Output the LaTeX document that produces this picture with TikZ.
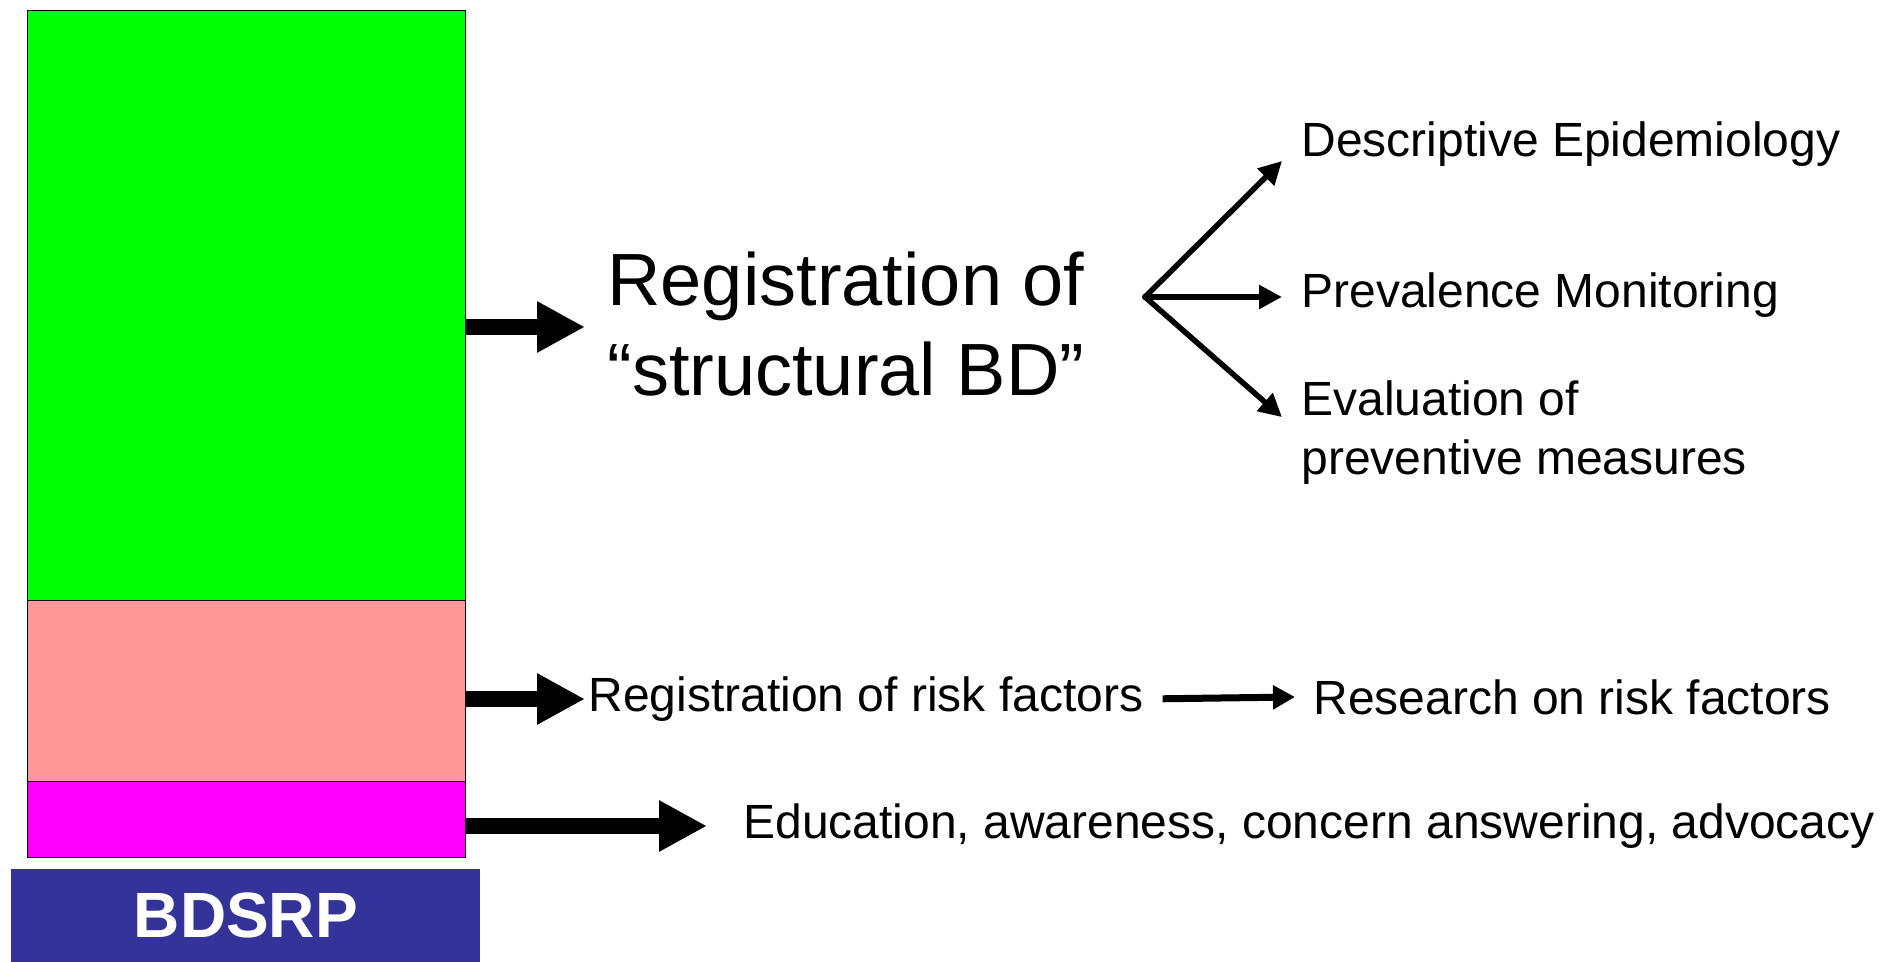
\documentclass[tikz,border=0pt]{standalone}
\usepackage{fontspec}
\setmainfont{Liberation Sans}
\usepackage{tikz}
\usetikzlibrary{arrows.meta}

\begin{document}
\begin{tikzpicture}
	[x=0.5pt,y=-0.5pt,line cap=round,
	%Styles
	block/.style={draw,line width=0.75pt,inner sep=0,anchor=north west,minimum width=219pt},
	label text/.style={anchor=west,inner ysep=0,font=\fontsize{24}{29.5}\selectfont,align=left},
	big text/.style={anchor=west,font=\fontsize{37}{45}\selectfont,align=left},
	fat arrow/.style={line width=8pt,line cap=butt,-{Triangle[length=24pt,width=24pt]}},
	thin arrow/.style={line width=3.5pt,line cap=butt,-{Triangle[length=11pt,width=11.5pt]}},
	fan arrow/.style={line width=2.75pt,-{Triangle[length=11.5pt,width=11.5pt]}}
	]
	
	%Colors
	\definecolor{bargreen}{RGB}{0,255,0}
	\definecolor{barsalmon}{RGB}{255,153,153}
	\definecolor{barmagenta}{RGB}{255,0,255}
	\definecolor{titleblue}{RGB}{51,51,153}
	
	\useasboundingbox (0,0) rectangle (1892,962);
	
	%The bar
	\node[block,fill=bargreen,minimum height=295pt] (green) at (26.5,9.7) {};
	\node[block,fill=barsalmon,minimum height=90.5pt] (salmon) at (26.5,599.7) {};
	\node[block,fill=barmagenta,minimum height=38pt] (magenta) at (26.5,780.7) {};
	\node[anchor=north west,fill=titleblue,inner sep=0,minimum width=234.5pt,minimum height=46.5pt,
		text=white,font=\fontsize{32}{38}\selectfont\bfseries] (bdsrp) at (11,869) {BDSRP};
	
	%The texts
	\node[big text,inner xsep=11pt,yshift=1.5pt] (reg) at (585,327) {Registration of\\“structural BD”};
	\coordinate (fan) at (1145,297);
	\node[label text,inner xsep=9.5pt,anchor=base west] (desc) at (1282,157) {Descriptive Epidemiology};
	\node[label text,inner xsep=9.5pt] (prev) at (1282,295) {Prevalence Monitoring};
	\node[label text,inner xsep=9.5pt,anchor=base west] (eval) at (1282,475) {Evaluation of\\preventive measures};
	\node[label text,inner xsep=1.5pt] (risk) at (585,699) {Registration of risk factors};
	\node[label text,inner xsep=9pt] (research) at (1295,697) {Research on risk factors};
	\node[label text,inner xsep=18pt] (edu) at (707,826) {Education, awareness, concern answering, advocacy};
	
	%The arrows
	\draw[fat arrow] (green.east |- 0,327) -- (reg.west |- 0,327);
	\draw[fat arrow] (salmon.east |- risk.west) -- (risk.west);
	\draw[fat arrow] (magenta.east |- edu.west) -- (edu.west);
	\draw[thin arrow,shorten <=8pt] (risk.east) -- (research.west);
	\draw[fan arrow] (fan) -- ([yshift=-2pt]desc.base west);
	\draw[fan arrow] (fan) -- (prev.west |- fan);
	\draw[fan arrow] (fan) -- ([yshift=8pt]eval.west);
\end{tikzpicture}
\end{document}
